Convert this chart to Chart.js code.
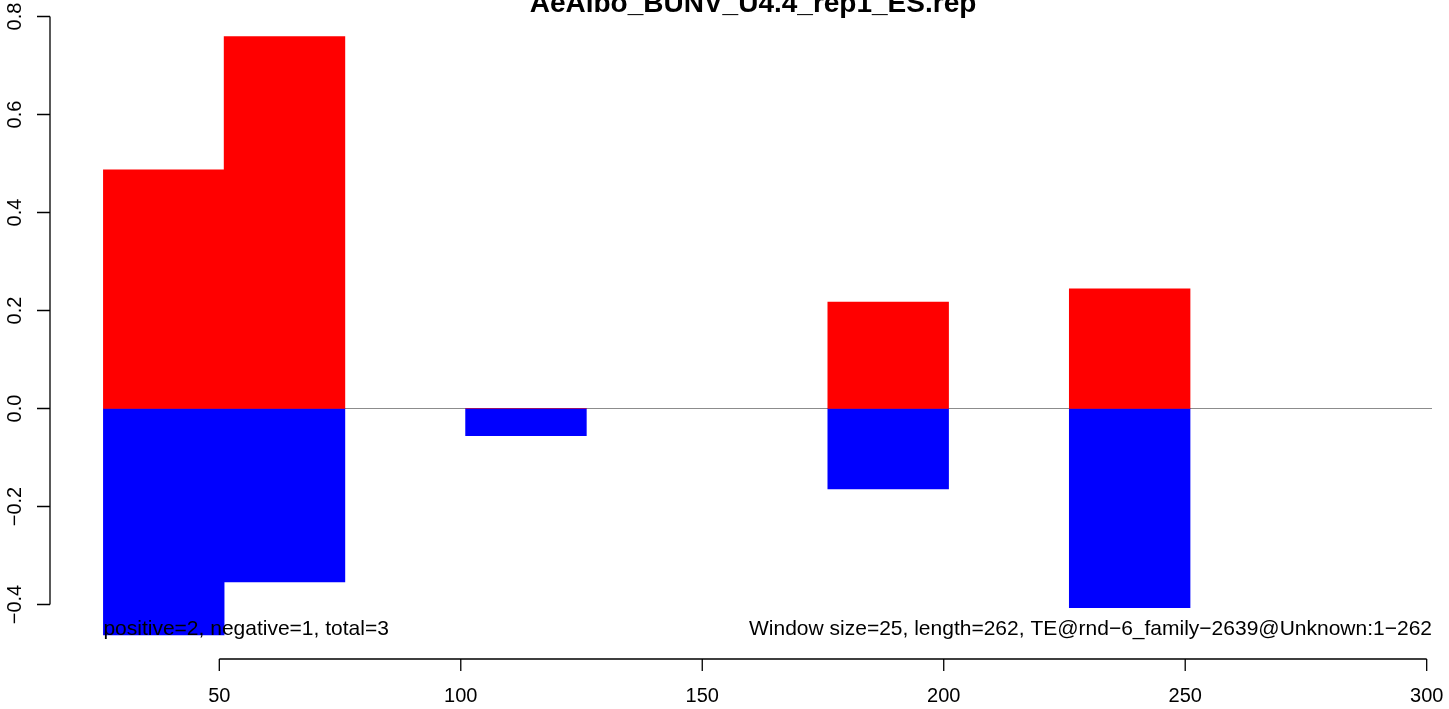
<!DOCTYPE html>
<html>
<head>
<meta charset="utf-8">
<script src="https://cdn.jsdelivr.net/npm/chart.js@4.4.1/dist/chart.umd.min.js"></script>
<style>
html,body{margin:0;padding:0;background:#fff;overflow:hidden;}
canvas{display:block;}
</style>
</head>
<body>
<canvas id="c" width="1449" height="709"></canvas>
<script>
// ---- data ----
const titleText = "AeAlbo_BUNV_U4.4_rep1_ES.rep";
const windowSize = 25;
const windowStarts = [26, 51, 101, 176, 226];
const positiveValues = [0.487, 0.759, 0, 0.217, 0.244];
const negativeValues = [-0.462, -0.354, -0.0555, -0.164, -0.4065];
const xTicks = [50, 100, 150, 200, 250, 300];
const yTicks = [-0.4, -0.2, 0.0, 0.2, 0.4, 0.6, 0.8];
const yTickLabels = ["\u22120.4", "\u22120.2", "0.0", "0.2", "0.4", "0.6", "0.8"];
const leftNote = "positive=2, negative=1, total=3";
const rightNote = "Window size=25, length=262, TE@rnd\u22126_family\u22122639@Unknown:1\u2212262";

// ---- layout ----
const X_MIN = 14.945, X_MAX = 301.1;
const Y_MIN = -0.5112, Y_MAX = 0.8071;
const PAD = {left: 50, right: 17, top: 13, bottom: 50};
const plotWidth = 1449 - PAD.left - PAD.right;
const barPx = windowSize / (X_MAX - X_MIN) * plotWidth;

const centers = windowStarts.map(s => s + windowSize / 2);
const posData = centers.map((c, i) => ({x: c, y: positiveValues[i]}));
const negData = centers.map((c, i) => ({x: c, y: negativeValues[i]}));

const FONT = '"Liberation Sans", Arial, Helvetica, sans-serif';

const decor = {
  id: 'decor',
  beforeDatasetsDraw(chart) {
    const ctx = chart.ctx, xs = chart.scales.x, ys = chart.scales.y, a = chart.chartArea;
    ctx.save();
    ctx.strokeStyle = '#8c8c8c';
    ctx.lineWidth = 1.2;
    ctx.beginPath();
    const y0 = ys.getPixelForValue(0);
    ctx.moveTo(xs.getPixelForValue(windowStarts[0]), y0);
    ctx.lineTo(a.right, y0);
    ctx.stroke();
    ctx.restore();
  },
  afterDraw(chart) {
    const ctx = chart.ctx, xs = chart.scales.x, ys = chart.scales.y, a = chart.chartArea;
    ctx.save();
    ctx.strokeStyle = '#000';
    ctx.lineWidth = 1.3;
    ctx.fillStyle = '#000';
    // y axis
    const yTop = ys.getPixelForValue(yTicks[yTicks.length - 1]);
    const yBot = ys.getPixelForValue(yTicks[0]);
    ctx.beginPath();
    ctx.moveTo(a.left, yTop); ctx.lineTo(a.left, yBot);
    yTicks.forEach(v => {
      const p = ys.getPixelForValue(v);
      ctx.moveTo(a.left, p); ctx.lineTo(a.left - 13, p);
    });
    ctx.stroke();
    ctx.font = '20px ' + FONT;
    ctx.textAlign = 'center';
    ctx.textBaseline = 'middle';
    yTicks.forEach((v, i) => {
      const p = ys.getPixelForValue(v);
      ctx.save();
      ctx.translate(15, p);
      ctx.rotate(-Math.PI / 2);
      ctx.fillText(yTickLabels[i], 0, 0);
      ctx.restore();
    });
    // x axis
    const xl = xs.getPixelForValue(xTicks[0]);
    const xr = xs.getPixelForValue(xTicks[xTicks.length - 1]);
    ctx.beginPath();
    ctx.moveTo(xl, a.bottom); ctx.lineTo(xr, a.bottom);
    xTicks.forEach(v => {
      const p = xs.getPixelForValue(v);
      ctx.moveTo(p, a.bottom); ctx.lineTo(p, a.bottom + 12);
    });
    ctx.stroke();
    xTicks.forEach(v => {
      ctx.fillText(String(v), xs.getPixelForValue(v), 696);
    });
    // notes
    ctx.font = '21px ' + FONT;
    ctx.textBaseline = 'alphabetic';
    ctx.textAlign = 'left';
    ctx.fillText(leftNote, xs.getPixelForValue(windowStarts[0]), 635);
    ctx.textAlign = 'right';
    ctx.fillText(rightNote, a.right, 635);
    // title
    ctx.font = 'bold 28px ' + FONT;
    ctx.textAlign = 'center';
    ctx.fillText(titleText, 753, 12);
    ctx.restore();
  }
};

new Chart(document.getElementById('c'), {
  type: 'bar',
  data: {
    datasets: [
      {data: posData, backgroundColor: '#ff0000', borderWidth: 0, barThickness: barPx, grouped: false},
      {data: negData, backgroundColor: '#0000ff', borderWidth: 0, barThickness: barPx, grouped: false}
    ]
  },
  options: {
    responsive: false,
    animation: false,
    events: [],
    layout: {padding: PAD},
    plugins: {legend: {display: false}, tooltip: {enabled: false}, title: {display: false}},
    scales: {
      x: {type: 'linear', min: X_MIN, max: X_MAX, offset: false, display: false},
      y: {type: 'linear', min: Y_MIN, max: Y_MAX, display: false}
    }
  },
  plugins: [decor]
});
</script>
</body>
</html>
